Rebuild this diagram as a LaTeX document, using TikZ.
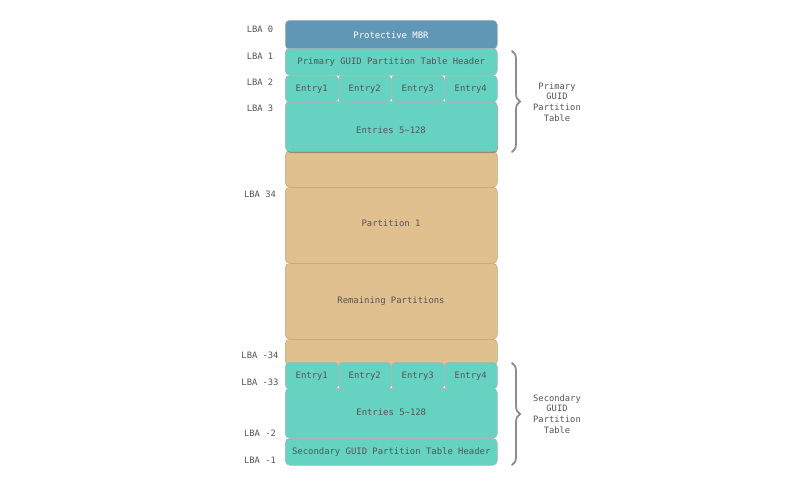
\documentclass[tikz,border=0pt]{standalone}
\usepackage{fontspec}
\setmonofont{DejaVu Sans Mono}
\usetikzlibrary{decorations.pathreplacing}
\definecolor{mbr}{HTML}{6097B5}
\definecolor{teal}{HTML}{66D2C1}
\definecolor{tan}{HTML}{E1C090}
\definecolor{txt}{HTML}{555555}
\definecolor{brc}{HTML}{8C8C8C}
\tikzset{
  blk/.style={draw=black!30, line width=0.5pt, rounded corners=4.5pt, anchor=north west,
    inner sep=0pt, minimum width=212pt, font=\ttfamily\fontsize{8.9}{10}\selectfont, text=txt,
    text height=6.5pt, text depth=1.5pt},
  mbrbox/.style={blk, fill=mbr, text=white},
  tealbox/.style={blk, fill=teal},
  tanbox/.style={blk, fill=tan, draw=tan!85!black},
  entbox/.style={blk, fill=teal, minimum width=53pt},
  lba/.style={font=\ttfamily\fontsize{8.8}{10}\selectfont, text=txt, anchor=center},
  side/.style={font=\ttfamily\fontsize{8.8}{10.8}\selectfont, text=txt, align=center},
  bracestyle/.style={draw=brc, line width=1.8pt, line cap=round,
    decorate, decoration={brace, amplitude=8pt, aspect=0.5}}
}
\begin{document}
\begin{tikzpicture}[x=1pt,y=-1pt]
\useasboundingbox (0,0) rectangle (800,488);
% tan region
\node[tanbox, minimum height=36pt] (gap1) at (285,151) {};
\node[tanbox, minimum height=76pt] (p1) at (285,187) {};
\node[tanbox, minimum height=76pt] (rem) at (285,263) {};
\node[tanbox, minimum height=26pt] (gap2) at (285,339) {};
\node[text=txt, font=\ttfamily\fontsize{8.9}{10}\selectfont] at (391,223) {Partition 1};
\node[text=txt, font=\ttfamily\fontsize{8.9}{10}\selectfont] at (391,301) {Remaining Partitions};
% primary
\node[mbrbox, minimum height=29pt] (mbr) at (285,20) {};
\node[text=white, font=\ttfamily\fontsize{8.9}{10}\selectfont] at (391,35) {Protective MBR};
\fill[black!60, opacity=0.6, rounded corners=4.5pt] (286,103) rectangle (498,153);
\node[tealbox, minimum height=50pt] (pe5) at (285,101) {};
\node[text=txt, font=\ttfamily\fontsize{8.9}{10}\selectfont] at (391,130) {Entries 5\textasciitilde128};
\node[entbox, minimum height=27pt] (pe1) at (285,75) {Entry1};
\node[entbox, minimum height=27pt] (pe2) at (338,75) {Entry2};
\node[entbox, minimum height=27pt] (pe3) at (391,75) {Entry3};
\node[entbox, minimum height=27pt] (pe4) at (444,75) {Entry4};
\node[tealbox, minimum height=27pt] (phdr) at (285,48) {Primary GUID Partition Table Header};
% secondary
\node[tealbox, minimum height=27pt] (shdr) at (285,438) {Secondary GUID Partition Table Header};
\node[tealbox, minimum height=50pt] (se5) at (285,388) {Entries 5\textasciitilde128};
\node[entbox, minimum height=27pt] (se1) at (285,362) {Entry1};
\node[entbox, minimum height=27pt] (se2) at (338,362) {Entry2};
\node[entbox, minimum height=27pt] (se3) at (391,362) {Entry3};
\node[entbox, minimum height=27pt] (se4) at (444,362) {Entry4};
% LBA labels
\node[lba] (l0) at (260,29) {LBA 0};
\node[lba] (l1) at (260,56) {LBA 1};
\node[lba] (l2) at (260,82) {LBA 2};
\node[lba] (l3) at (260,108) {LBA 3};
\node[lba] (l34) at (260,194) {LBA 34};
\node[lba] (lm34) at (260,355) {LBA -34};
\node[lba] (lm33) at (260,382) {LBA -33};
\node[lba] (lm2) at (260,433) {LBA -2};
\node[lba] (lm1) at (260,460) {LBA -1};
% braces
\coordinate (b1t) at (512,51);
\coordinate (b1b) at (512,152);
\coordinate (b2t) at (512,363);
\coordinate (b2b) at (512,465);
\draw[bracestyle] (b1t) -- (b1b);
\draw[bracestyle] (b2t) -- (b2b);
\node[side] (ppt) at (557,102) {Primary\\GUID\\Partition\\Table};
\node[side] (spt) at (557,414) {Secondary\\GUID\\Partition\\Table};
\end{tikzpicture}
\end{document}
